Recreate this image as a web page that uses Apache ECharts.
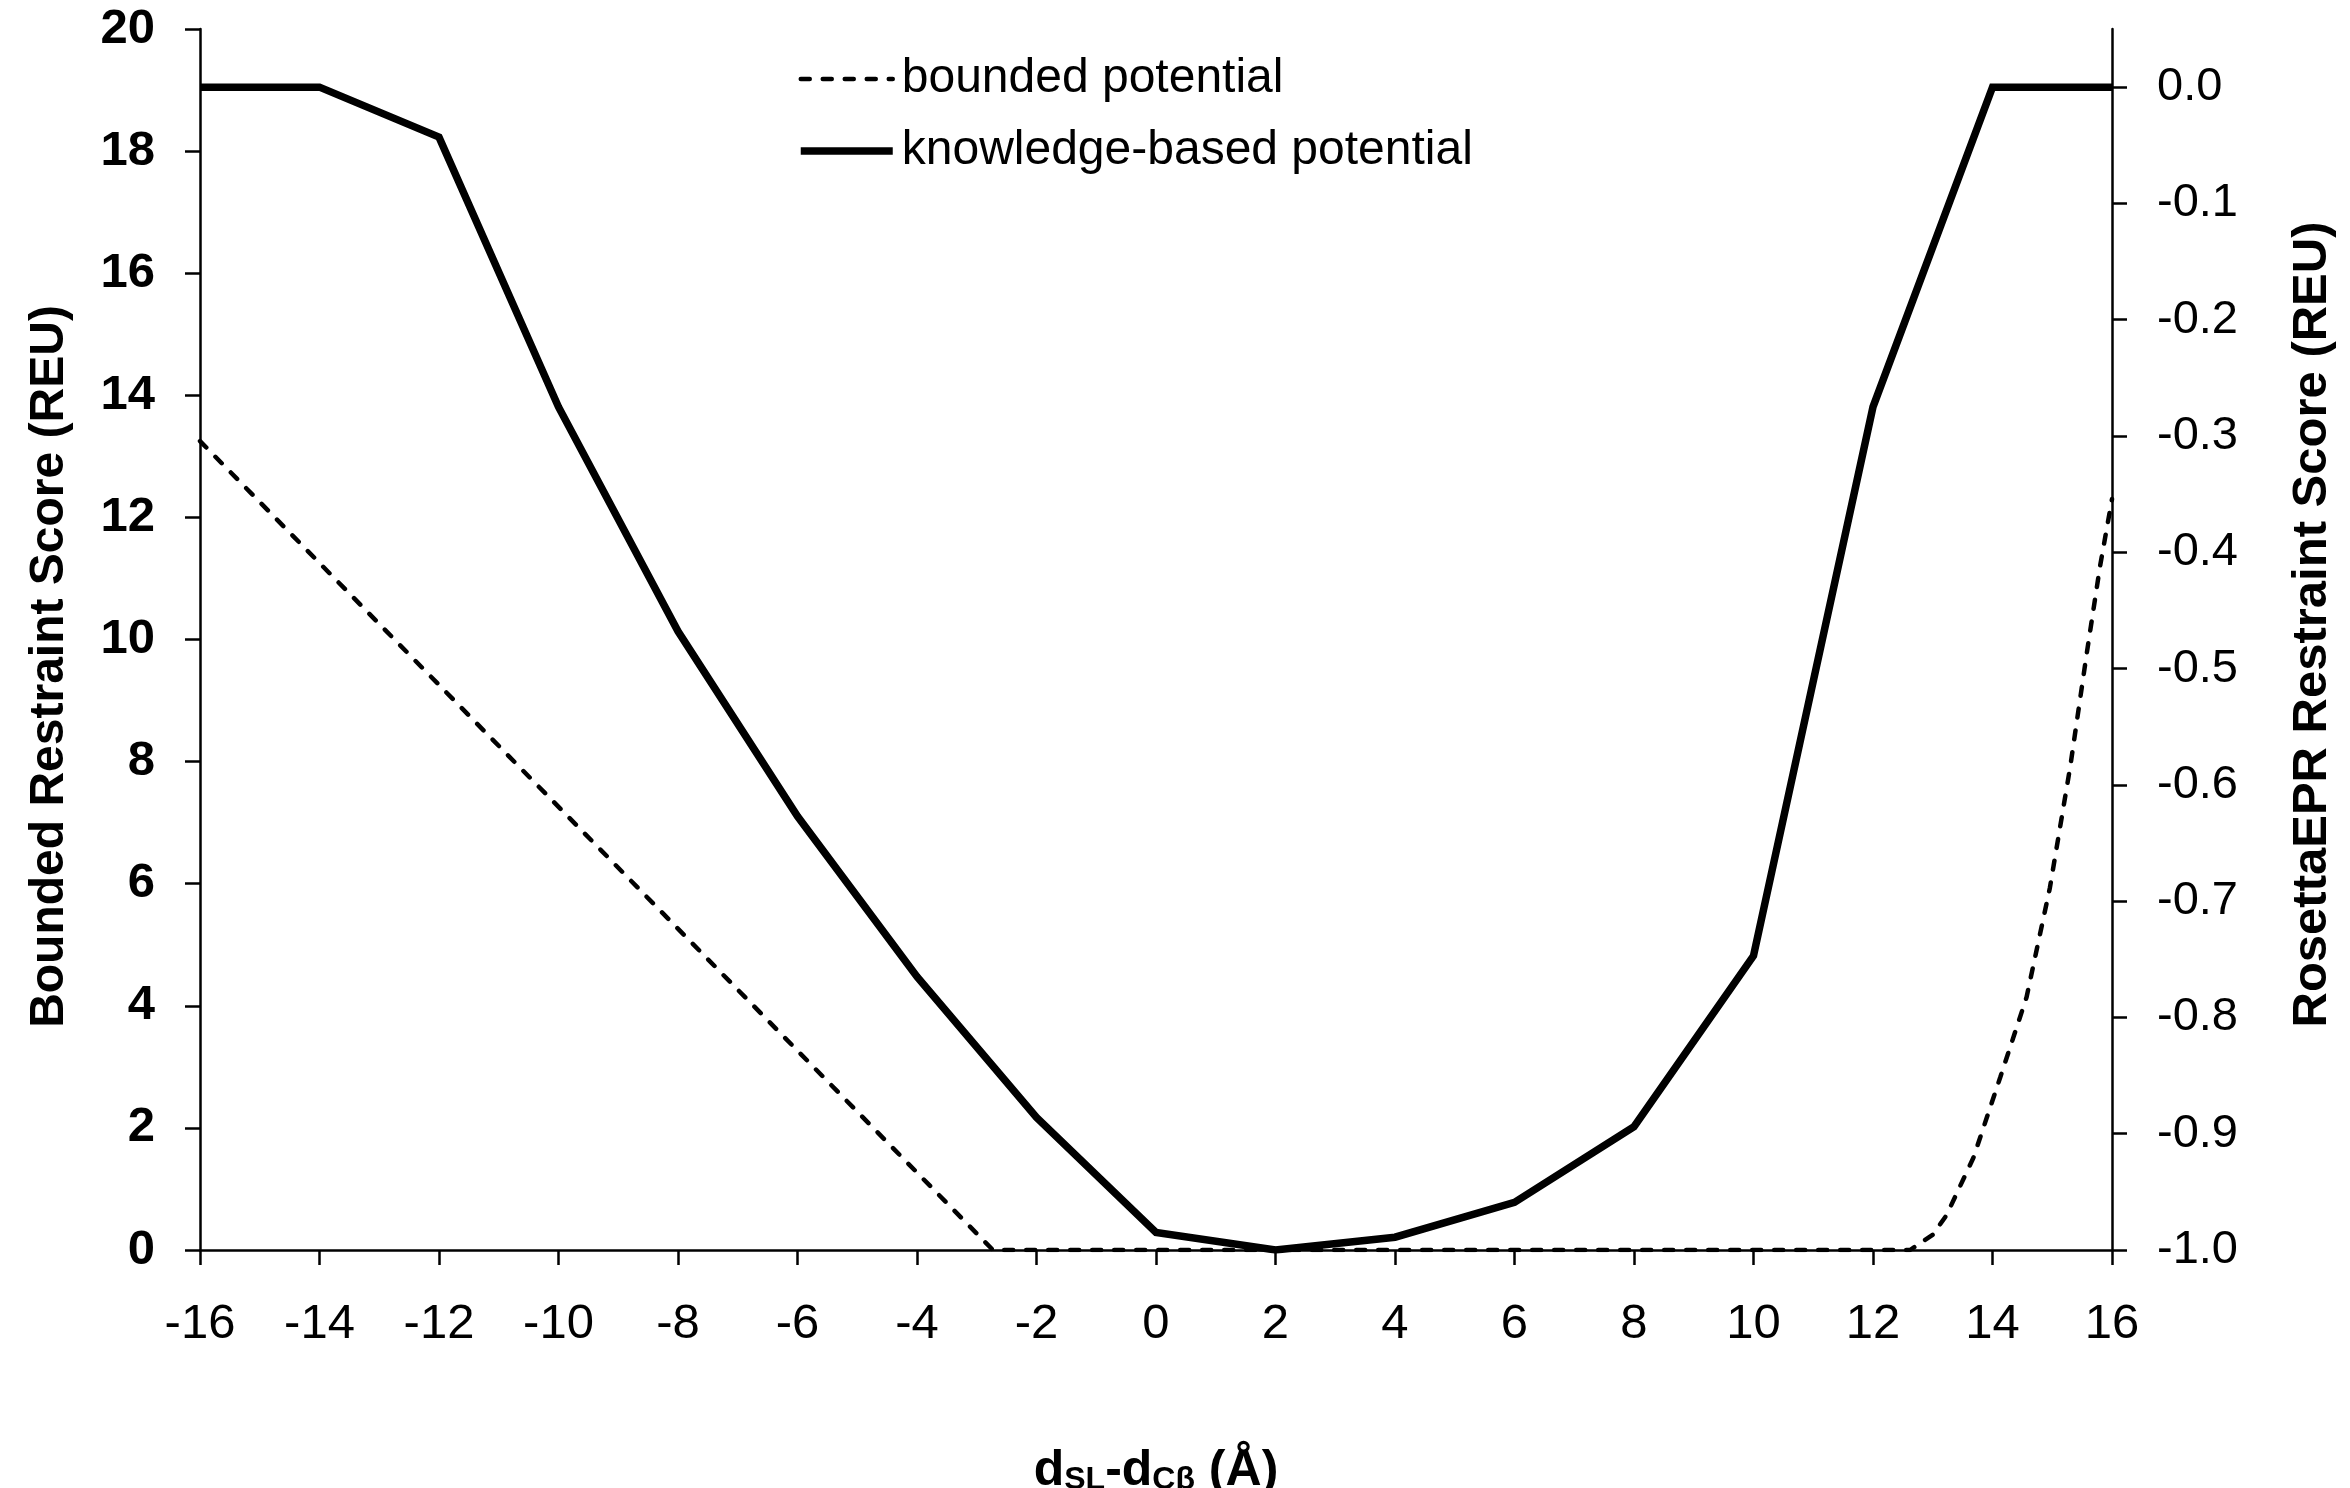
<!DOCTYPE html>
<html>
<head>
<meta charset="utf-8">
<script src="https://cdn.jsdelivr.net/npm/echarts@6/dist/echarts.min.js"></script>
<style>
  html, body { margin: 0; padding: 0; background: #fff; }
  #chart { width: 2350px; height: 1488px; }
</style>
</head>
<body>
<div id="chart"></div>
<script>
// Distance offset d_SL - d_Cβ (Å)
const xTicks = [-16, -14, -12, -10, -8, -6, -4, -2, 0, 2, 4, 6, 8, 10, 12, 14, 16];

// Bounded potential (left axis, REU)
const boundedX = [-16, -2.73, 12.62, 13.0, 13.23, 13.68, 14.13, 14.57, 14.96, 15.30, 15.58, 15.80, 16];
const boundedY = [13.25, 0, 0, 0.25, 0.57, 1.51, 2.83, 4.14, 5.93, 7.91, 9.79, 11.2, 12.3];

// Knowledge-based potential (right axis, RosettaEPR score)
const knowledgeX = [-16, -14, -12, -10, -8, -6, -4, -2, 0, 2, 4, 6, 8, 10, 12, 14, 16];
const knowledgeY = [0, 0, -0.043, -0.275, -0.468, -0.627, -0.765, -0.886, -0.985, -1.0, -0.989, -0.959, -0.894, -0.747, -0.275, 0, 0];

// Axis tick values
const leftTicks = [0, 2, 4, 6, 8, 10, 12, 14, 16, 18, 20];
const rightTicks = [-1.0, -0.9, -0.8, -0.7, -0.6, -0.5, -0.4, -0.3, -0.2, -0.1, 0.0];

const FONT = '"Liberation Sans", Arial, Helvetica, sans-serif';

const zip = (xs, ys) => xs.map((x, i) => [x, ys[i]]);

const axisLine = { show: true, onZero: false, lineStyle: { color: '#000', width: 2.5 } };
const axisTick = { show: true, inside: false, length: 15, lineStyle: { color: '#000', width: 2.5 } };

const DASHED = { color: '#000', width: 4.5, type: [9, 13], cap: 'round' };
const SOLID = { color: '#000', width: 7.5, join: 'miter' };

const chart = echarts.init(document.getElementById('chart'), null, { renderer: 'canvas' });

chart.setOption({
  animation: false,
  backgroundColor: '#fff',
  grid: { left: 200, right: 238, top: 29, bottom: 238, containLabel: false, outerBoundsMode: 'none' },
  legend: {
    orient: 'vertical',
    left: 792,
    top: 48,
    itemWidth: 92,
    itemHeight: 20,
    itemGap: 20,
    itemStyle: { opacity: 0 },
    textStyle: { fontFamily: FONT, fontSize: 48, color: '#000', lineHeight: 52, padding: [0, 0, 0, 4] },
    data: [
      { name: 'bounded potential', lineStyle: DASHED, itemStyle: { opacity: 0 } },
      { name: 'knowledge-based potential', lineStyle: SOLID, itemStyle: { opacity: 0 } }
    ]
  },
  xAxis: {
    type: 'value',
    min: -16,
    max: 16,
    interval: 2,
    axisLine: axisLine,
    axisTick: axisTick,
    splitLine: { show: false },
    axisLabel: {
      margin: 50,
      fontFamily: FONT,
      fontSize: 49,
      color: '#000',
      customValues: xTicks,
      formatter: v => String(v)
    },
    name: '{d|d}{s|SL}{d|-d}{s|Cβ}{d| (Å)}',
    nameLocation: 'middle',
    nameGap: 190,
    nameTextStyle: {
      rich: {
        d: { fontFamily: FONT, fontSize: 50, fontWeight: 'bold', color: '#000', lineHeight: 56, verticalAlign: 'bottom' },
        s: { fontFamily: FONT, fontSize: 32, fontWeight: 'bold', color: '#000', lineHeight: 56, verticalAlign: 'bottom', padding: [22, 0, 0, 0] }
      }
    }
  },
  yAxis: [
    {
      type: 'value',
      position: 'left',
      min: 0,
      max: 20,
      interval: 2,
      axisLine: axisLine,
      axisTick: axisTick,
      splitLine: { show: false },
      axisLabel: {
        margin: 45,
        fontFamily: FONT,
        fontSize: 49,
        fontWeight: 'bold',
        color: '#000',
        customValues: leftTicks
      },
      name: 'Bounded Restraint Score (REU)',
      nameLocation: 'middle',
      nameGap: 126,
      nameRotate: 90,
      nameTextStyle: {
        fontFamily: FONT, fontSize: 48, fontWeight: 'bold', color: '#000',
        padding: [0, 54, 0, 0]
      }
    },
    {
      type: 'value',
      position: 'right',
      min: -1,
      max: 0.05,
      interval: 0.1,
      axisLine: axisLine,
      axisTick: Object.assign({}, axisTick, { customValues: rightTicks }),
      splitLine: { show: false },
      axisLabel: {
        margin: 45,
        fontFamily: FONT,
        fontSize: 47,
        color: '#000',
        customValues: rightTicks,
        formatter: v => (Math.abs(v) < 1e-9 ? '0.0' : v.toFixed(1))
      },
      name: 'RosettaEPR Restraint Score (REU)',
      nameLocation: 'middle',
      nameGap: 176,
      nameRotate: 90,
      nameTextStyle: {
        fontFamily: FONT, fontSize: 49, fontWeight: 'bold', color: '#000',
        padding: [0, 0, 0, 30]
      }
    }
  ],
  series: [
    {
      name: 'bounded potential',
      type: 'line',
      yAxisIndex: 0,
      data: zip(boundedX, boundedY),
      showSymbol: false,
      symbol: 'none',
      lineStyle: DASHED,
      itemStyle: { color: '#000' },
      z: 3
    },
    {
      name: 'knowledge-based potential',
      type: 'line',
      yAxisIndex: 1,
      data: zip(knowledgeX, knowledgeY),
      showSymbol: false,
      symbol: 'none',
      lineStyle: SOLID,
      itemStyle: { color: '#000' },
      z: 4
    }
  ]
});
</script>
</body>
</html>
